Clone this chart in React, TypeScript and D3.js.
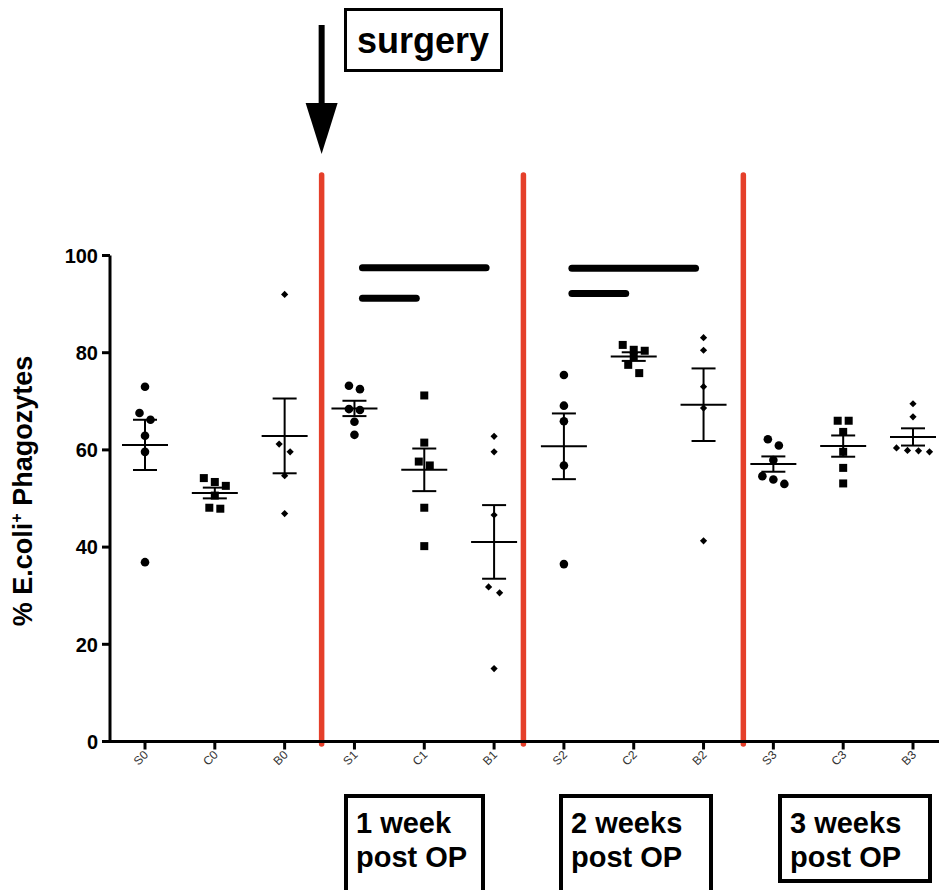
import React from 'react';
import * as d3 from 'd3';

const categories = ['S0', 'C0', 'B0', 'S1', 'C1', 'B1', 'S2', 'C2', 'B2', 'S3', 'C3', 'B3'];
const valuesS0 = [73.0, 67.6, 66.2, 62.9, 59.6, 36.9];
const valuesC0 = [54.2, 53.4, 52.6, 50.6, 48.1, 47.9];
const valuesB0 = [92.0, 61.2, 59.6, 54.7, 46.9];
const valuesS1 = [73.2, 72.5, 68.4, 68.2, 65.8, 63.1];
const valuesC1 = [71.2, 61.5, 57.6, 56.8, 48.1, 40.2];
const valuesB1 = [62.8, 59.6, 46.6, 31.8, 30.6, 15.0];
const valuesS2 = [75.4, 69.1, 65.9, 56.8, 36.5];
const valuesC2 = [81.6, 80.6, 80.4, 79.3, 77.5, 75.8];
const valuesB2 = [83.1, 80.5, 73.0, 68.6, 41.3];
const valuesS3 = [62.2, 60.9, 57.9, 54.6, 53.9, 53.0];
const valuesC3 = [66.0, 66.0, 63.7, 59.6, 56.3, 53.1];
const valuesB3 = [69.5, 66.8, 60.4, 59.9, 59.8, 59.6];
const groupValues = [valuesS0, valuesC0, valuesB0, valuesS1, valuesC1, valuesB1, valuesS2, valuesC2, valuesB2, valuesS3, valuesC3, valuesB3];
const yTicks = [0, 20, 40, 60, 80, 100];
// separators between time points, in category-index units
const separators = [2.53, 5.42, 8.57];
const sigBars = [
  { from: 'S1', to: 'B1', value: 97.5 },
  { from: 'S1', to: 'C1', value: 91.2 },
  { from: 'S2', to: 'B2', value: 97.4 },
  { from: 'S2', to: 'C2', value: 92.2 },
];
const periodLabels = [['1 week', 'post OP'], ['2 weeks', 'post OP'], ['3 weeks', 'post OP']];
const surgeryLabel = 'surgery';

const FONT = "'Liberation Sans', Arial, Helvetica, sans-serif";
const RED = '#e53f2a';

const x = d3.scaleLinear().domain([0, categories.length - 1]).range([145, 913]);
const y = d3.scaleLinear().domain([0, 100]).range([741.5, 255.5]);
const xc = (c: string) => x(categories.indexOf(c));

function jitter(vals: number[]): number[] {
  const idx = vals.map((_, i) => i).sort((a, b) => vals[b] - vals[a]);
  const rows: number[][] = [];
  idx.forEach((i) => {
    const row = rows[rows.length - 1];
    if (row && Math.abs(y(vals[row[0]]) - y(vals[i])) < 8.5) row.push(i);
    else rows.push([i]);
  });
  const off = new Array(vals.length).fill(0);
  const d = 11;
  rows.forEach((row) => {
    row.forEach((i, k) => {
      off[i] = (k - (row.length - 1) / 2) * d;
    });
  });
  return off;
}

function Marker({ kind, cx, cy }: { kind: string; cx: number; cy: number }) {
  if (kind === 'S') return <circle cx={cx} cy={cy} r={4.3} fill="#000" />;
  if (kind === 'C') return <rect x={cx - 4} y={cy - 4} width={8} height={8} fill="#000" />;
  const h = 3.6;
  return <path d={`M${cx},${cy - h}L${cx + h},${cy}L${cx},${cy + h}L${cx - h},${cy}Z`} fill="#000" />;
}

export default function App() {
  const boxes = [
    { x: 346, w: 137, h: 110 },
    { x: 561, w: 150, h: 110 },
    { x: 780, w: 150, h: 85 },
  ];
  return (
    <svg width={939} height={890} style={{ position: 'absolute', left: 0, top: 0, background: '#fff' }} fontFamily={FONT}>
      <rect x={0} y={0} width={939} height={890} fill="#fff" />
      {/* separators */}
      {separators.map((s, i) => (
        <line key={i} x1={x(s)} x2={x(s)} y1={175} y2={744} stroke={RED} strokeWidth={5.5} strokeLinecap="round" />
      ))}
      {/* axes */}
      <line x1={110} x2={110} y1={y(100)} y2={y(0) + 1.5} stroke="#000" strokeWidth={3} />
      <line x1={108.5} x2={939} y1={y(0)} y2={y(0)} stroke="#000" strokeWidth={3} />
      {yTicks.map((t) => (
        <g key={t}>
          <line x1={102} x2={110} y1={y(t)} y2={y(t)} stroke="#000" strokeWidth={3} />
          <text x={98} y={y(t)} dy="0.36em" textAnchor="end" fontSize={20} fontWeight="bold" fill="#000">{t}</text>
        </g>
      ))}
      {categories.map((c, i) => (
        <g key={c}>
          <line x1={x(i)} x2={x(i)} y1={y(0)} y2={y(0) + 8} stroke="#000" strokeWidth={3} />
          <text transform={`translate(${x(i) + 4},${y(0) + 14}) rotate(-45)`} textAnchor="end" fontSize={12} fill="#333">{c}</text>
        </g>
      ))}
      <text transform={`translate(32,491) rotate(-90)`} textAnchor="middle" fontSize={27} fontWeight="bold" fill="#000">
        % E.coli<tspan fontSize={16} dy={-10}>+</tspan><tspan dy={10}> Phagozytes</tspan>
      </text>
      {/* data */}
      {groupValues.map((vals, i) => {
        const kind = categories[i][0];
        const off = jitter(vals);
        const m = d3.mean(vals) as number;
        const sem = (d3.deviation(vals) as number) / Math.sqrt(vals.length);
        const cx = x(i);
        return (
          <g key={i}>
            {vals.map((v, k) => (
              <Marker key={k} kind={kind} cx={cx + off[k]} cy={y(v)} />
            ))}
            <g stroke="#000" strokeWidth={2}>
              <line x1={cx - 23} x2={cx + 23} y1={y(m)} y2={y(m)} />
              <line x1={cx} x2={cx} y1={y(m + sem)} y2={y(m - sem)} />
              <line x1={cx - 12} x2={cx + 12} y1={y(m + sem)} y2={y(m + sem)} />
              <line x1={cx - 12} x2={cx + 12} y1={y(m - sem)} y2={y(m - sem)} />
            </g>
          </g>
        );
      })}
      {/* significance bars */}
      {sigBars.map((b, i) => (
        <line key={i} x1={xc(b.from) + 8} x2={xc(b.to) - 8} y1={y(b.value)} y2={y(b.value)} stroke="#000" strokeWidth={7} strokeLinecap="round" />
      ))}
      {/* surgery annotation */}
      <line x1={x(separators[0])} x2={x(separators[0])} y1={25} y2={108} stroke="#000" strokeWidth={6} />
      <path d={`M${x(separators[0]) - 16},103L${x(separators[0]) + 16},103L${x(separators[0])},154Z`} fill="#000" />
      <rect x={345.5} y={9.5} width={156} height={61} fill="none" stroke="#000" strokeWidth={3} />
      <text x={423} y={53} textAnchor="middle" fontSize={36} fontWeight="bold" fill="#000">{surgeryLabel}</text>
      {/* period boxes */}
      {periodLabels.map((lines, i) => (
        <g key={i}>
          <rect x={boxes[i].x} y={796} width={boxes[i].w} height={boxes[i].h} fill="none" stroke="#000" strokeWidth={4} />
          <text x={boxes[i].x + 10} y={833} fontSize={29} fontWeight="bold" fill="#000">{lines[0]}</text>
          <text x={boxes[i].x + 10} y={867} fontSize={29} fontWeight="bold" fill="#000">{lines[1]}</text>
        </g>
      ))}
    </svg>
  );
}
